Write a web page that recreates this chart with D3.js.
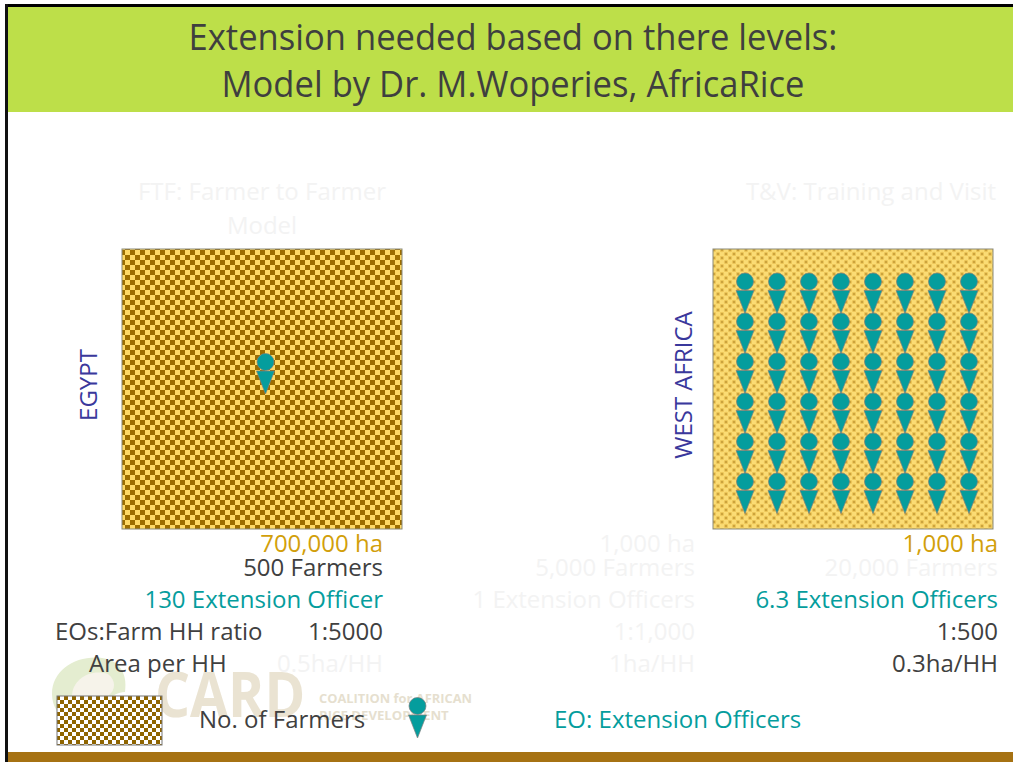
<!DOCTYPE html>
<html lang="en">
<head>
<meta charset="UTF-8">
<script src="https://d3js.org/d3.v7.min.js"></script>
<title>Extension needed based on there levels</title>
<style>
html, body { margin: 0; padding: 0; background: #fff; overflow: hidden; }
svg { display: block; }
text { font-family: "Open Sans", Lato, sans-serif; }
</style>
</head>
<body>
<script>
// Chart values
const titleLines = ['Extension needed based on there levels:', 'Model by Dr. M.Woperies, AfricaRice'];
const regions = ['EGYPT', 'WEST AFRICA'];
const faintHeaders = ['FTF: Farmer to Farmer', 'Model', 'T&V: Training and Visit'];
const eoColumns = [0, 1, 2, 3, 4, 5, 6, 7];
const eoRows = [0, 1, 2, 3, 4, 5];

const haLabels = ['700,000 ha', '1,000 ha', '1,000 ha'];
const farmerLabels = ['500 Farmers', '5,000 Farmers', '20,000 Farmers'];
const officerLabels = ['130 Extension Officer', '1 Extension Officers', '6.3 Extension Officers'];
const ratioLabels = ['1:5000', '1:1,000', '1:500'];
const areaLabels = ['0.5ha/HH', '1ha/HH', '0.3ha/HH'];

const W = 1013, H = 762;
const dark = '#404040', gold = '#d29f0b', teal = '#059d9d', blue = '#3a389c', faint = '#f3f3f3';

const svg = d3.select('body').append('svg').attr('width', W).attr('height', H);
const defs = svg.append('defs');

// squeeze stretches a string to fit the width it has in the source
function label(str, x, y, opts = {}) {
    const t = svg.append('text')
        .attr('x', x).attr('y', y)
        .attr('text-anchor', opts.anchor || 'start')
        .attr('font-size', opts.size || 24)
        .attr('fill', opts.fill || dark)
        .text(str);
    const len = t.node().getComputedTextLength();
    t.attr('textLength', len * (opts.squeeze || 1)).attr('lengthAdjust', 'spacingAndGlyphs');
    if (opts.rotate) t.attr('transform', `rotate(-90 ${x} ${y})`);
    return t;
}

// Patterns
function checker(id, s, light, darkCell) {
    const p = defs.append('pattern').attr('id', id).attr('patternUnits', 'userSpaceOnUse')
        .attr('width', s * 2).attr('height', s * 2);
    p.append('rect').attr('width', s * 2).attr('height', s * 2).attr('fill', light);
    p.append('rect').attr('width', s).attr('height', s).attr('fill', darkCell);
    p.append('rect').attr('x', s).attr('y', s).attr('width', s).attr('height', s).attr('fill', darkCell);
}
checker('bigCheck', 5, '#ffd966', '#9c6d00');
checker('smallCheck', 4, '#fff', '#8f6500');

const dots = defs.append('pattern').attr('id', 'dots').attr('patternUnits', 'userSpaceOnUse')
    .attr('width', 8).attr('height', 8);
dots.append('rect').attr('width', 8).attr('height', 8).attr('fill', '#fbdc74');
[[2, 2], [6, 6]].forEach(([x, y]) => {
    dots.append('circle').attr('cx', x).attr('cy', y).attr('r', 2.2).attr('fill', '#ecc557');
    dots.append('circle').attr('cx', x).attr('cy', y).attr('r', 1.1).attr('fill', '#c49b36');
});

// Slide frame
svg.append('rect').attr('x', 5).attr('y', 4).attr('width', W - 5).attr('height', 3).attr('fill', '#000');
svg.append('rect').attr('x', 5).attr('y', 4).attr('width', 3).attr('height', H - 4).attr('fill', '#111');
svg.append('rect').attr('x', 8).attr('y', 7).attr('width', W - 8).attr('height', 105).attr('fill', '#bddf49');
svg.append('rect').attr('x', 8).attr('y', 752).attr('width', W - 8).attr('height', 10).attr('fill', '#a67213');

// Title
const titleY = d3.scalePoint().domain(titleLines).range([50, 97]);
titleLines.forEach(d => label(d, 513, titleY(d), { anchor: 'middle', size: 36, fill: '#3f3f3f', squeeze: 0.96 }));

// CARD watermark, behind the legend
svg.append('path').attr('d', 'M52 694 C52 670 76 655 102 658 C118 660 128 672 125 692 C118 692 112 696 108 700 L60 700 C60 708 62 716 70 722 C58 716 52 706 52 694 Z').attr('fill', '#e4edd0');
svg.append('path').attr('d', 'M72 696 C72 680 90 668 108 674 C116 680 116 690 108 696 Z').attr('fill', '#f6f3ea');
label('CARD', 155, 717, { size: 62, fill: '#eae3d2', squeeze: 0.93 }).attr('font-weight', 700);
label('COALITION for AFRICAN', 319, 703, { size: 12.5, fill: '#e6dfcf', squeeze: 1.1 }).attr('font-weight', 700);
label('RICE DEVELOPMENT', 319, 720, { size: 12.5, fill: '#e6dfcf', squeeze: 1.1 }).attr('font-weight', 700);

// Faint headers
label(faintHeaders[0], 262, 200, { anchor: 'middle', fill: faint });
label(faintHeaders[1], 262, 234, { anchor: 'middle', fill: faint });
label(faintHeaders[2], 996, 200, { anchor: 'end', fill: faint });

// Panels
const panelSize = 280, panelTop = 249;
svg.append('rect').attr('x', 122).attr('y', panelTop).attr('width', panelSize).attr('height', panelSize)
    .attr('fill', 'url(#bigCheck)').attr('stroke', '#8a8a7a').attr('stroke-width', 1);
svg.append('rect').attr('x', 713).attr('y', panelTop).attr('width', panelSize).attr('height', panelSize)
    .attr('fill', 'url(#dots)').attr('stroke', '#8a8a7a').attr('stroke-width', 1);

// Region labels
label(regions[0], 97, 385, { anchor: 'middle', fill: blue, rotate: true });
label(regions[1], 692, 385, { anchor: 'middle', fill: blue, rotate: true });

// Extension officer figure: head plus downward wedge, anchored at the head centre
function officer(g, cx, cy) {
    const f = g.append('g').attr('transform', `translate(${cx},${cy})`);
    f.append('path').attr('d', 'M-9 9 L9 9 L0 32 Z').attr('fill', teal).attr('stroke', '#7f7f7f').attr('stroke-width', 0.7);
    f.append('circle').attr('r', 8.5).attr('fill', teal).attr('stroke', '#7f7f7f').attr('stroke-width', 0.7);
}
const xEO = d3.scalePoint().domain(eoColumns).range([745, 969]);
const yEO = d3.scalePoint().domain(eoRows).range([281.5, 481.5]);
const crowd = svg.append('g');
eoRows.forEach(r => eoColumns.forEach(c => officer(crowd, xEO(c), yEO(r))));
officer(svg, 265.5, 362);
officer(svg, 417.5, 706);

// Table columns; colours per column because most of the middle text is washed out in the source
const xCol = d3.scaleOrdinal().domain([0, 1, 2]).range([383, 695, 998]);
function tableRow(labels, y, colours) {
    labels.forEach((d, i) => label(d, xCol(i), y, { anchor: 'end', fill: colours[i] }));
}
tableRow(haLabels, 552, [gold, faint, gold]);
tableRow(farmerLabels, 576, [dark, faint, faint]);
tableRow(officerLabels, 608, [teal, faint, teal]);
tableRow(ratioLabels, 640, [dark, faint, dark]);
tableRow(areaLabels, 672, [faint, faint, dark]);

label('EOs:Farm HH ratio', 55, 640);
label('Area per HH', 89, 672);

// Legend
svg.append('rect').attr('x', 57).attr('y', 696).attr('width', 105).attr('height', 49)
    .attr('fill', 'url(#smallCheck)').attr('stroke', '#777').attr('stroke-width', 1);
label('No. of Farmers', 199, 728);
label('EO: Extension Officers', 554, 728, { fill: teal });
</script>
</body>
</html>
